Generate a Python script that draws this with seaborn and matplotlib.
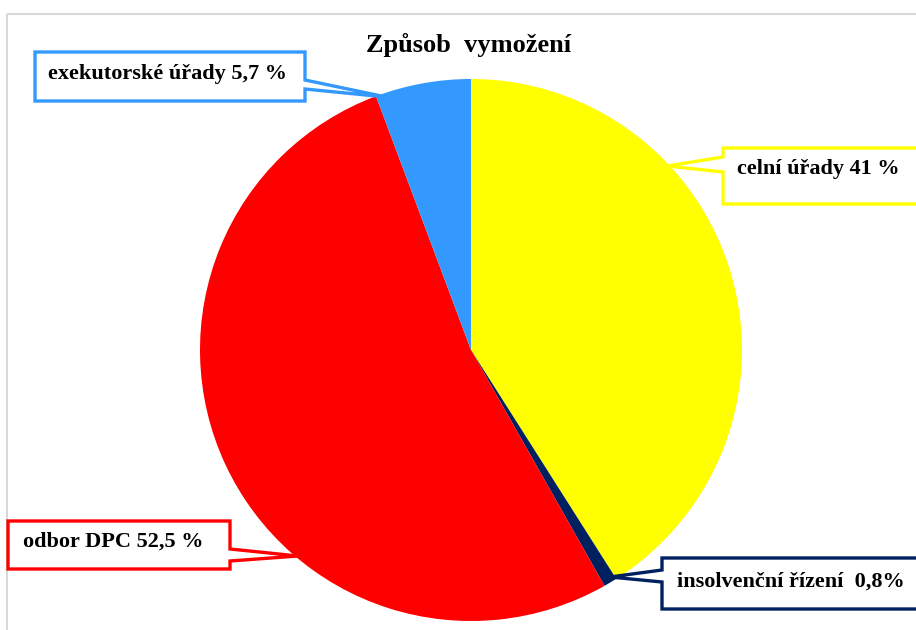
import matplotlib.pyplot as plt
import seaborn as sns
from matplotlib.patches import Polygon, Rectangle

# shares of recovered amounts, clockwise from 12 o'clock
categories = ["celní úřady", "insolvenční řízení", "odbor DPC", "exekutorské úřady"]
shares = [41.0, 0.8, 52.5, 5.7]
label_texts = ["celní úřady 41 %", "insolvenční řízení  0,8%", "odbor DPC 52,5 %", "exekutorské úřady 5,7 %"]
colors = ["#FFFF00", "#002060", "#FF0000", "#3399FF"]

# callout layout in pixel coords (x0, y0, x1, y1), pointer base side, base y range, tip, text pos
callouts = [
    ((723, 148, 925, 204), "left", (157, 172), (667, 166), (737, 169)),
    ((662, 558, 925, 609), "left", (570, 582), (610, 577), (677, 582)),
    ((8, 521, 230, 569), "right", (549, 561), (298, 556), (23, 542)),
    ((35, 52, 305, 101), "right", (80, 89), (386, 97), (48, 74)),
]

sns.set_theme(style="white")
plt.rcParams["font.family"] = ["Liberation Serif", "DejaVu Serif"]

fig = plt.figure(figsize=(9.16, 6.3), dpi=100)
ax = fig.add_axes([0, 0, 1, 1])

# y axis runs downward (pixel-like), so counterclock=True looks clockwise
ax.pie(shares, colors=colors, startangle=-90, counterclock=True,
       center=(471, 350), radius=271, wedgeprops=dict(linewidth=0))

ax.set_xlim(0, 916)
ax.set_ylim(630, 0)
ax.set_aspect("equal")
ax.axis("off")

# chart area border
ax.add_patch(Rectangle((7, 14), 940, 640, fill=False, edgecolor="#D9D9D9",
                       linewidth=1.5, clip_on=False, zorder=0))

ax.text(469, 45, "Způsob  vymožení", ha="center", va="center",
        fontsize=19, fontweight="bold", color="black")

for (box, side, base, tip, tpos), txt, col in zip(callouts, label_texts, colors):
    x0, y0, x1, y1 = box
    if side == "left":
        pts = [(x0, y0), (x1, y0), (x1, y1), (x0, y1), (x0, base[1]), tip, (x0, base[0])]
    else:
        pts = [(x0, y0), (x1, y0), (x1, base[0]), tip, (x1, base[1]), (x1, y1), (x0, y1)]
    ax.add_patch(Polygon(pts, closed=True, facecolor="white", edgecolor=col,
                         linewidth=2.4, joinstyle="miter", zorder=5))
    ax.text(tpos[0], tpos[1], txt, ha="left", va="center", fontsize=16,
            fontweight="bold", color="black", zorder=6)

fig.savefig("out.png", dpi=100)
plt.close(fig)
